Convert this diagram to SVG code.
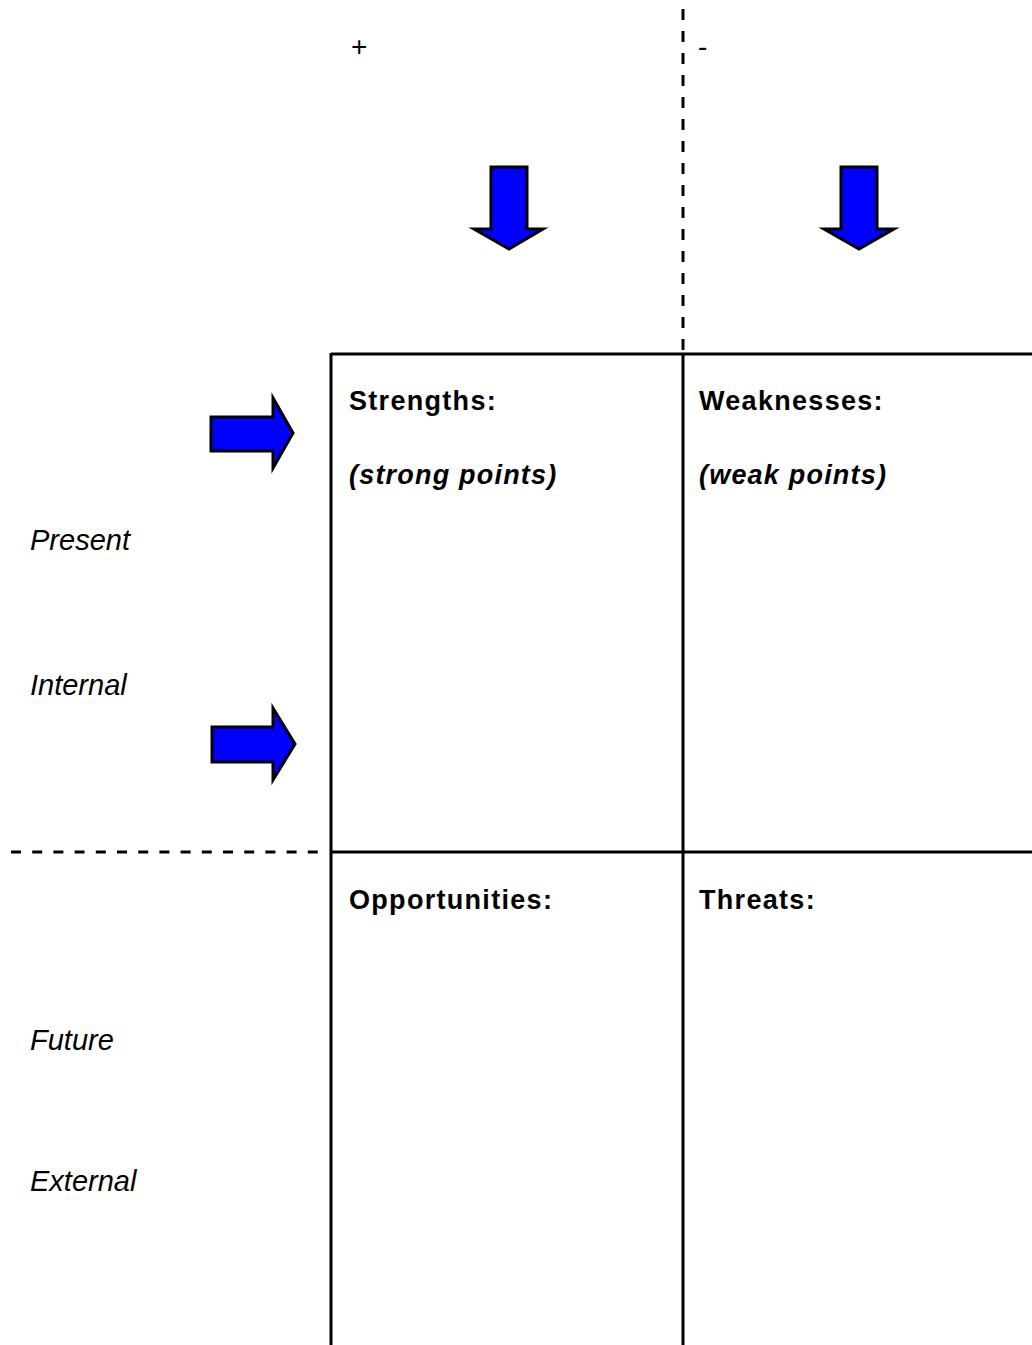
<svg xmlns="http://www.w3.org/2000/svg" width="1032" height="1345" viewBox="0 0 1032 1345">
  <style>
    .bg { fill: #ffffff; }
    .grid { stroke: #000000; stroke-width: 3; fill: none; }
    .dash { stroke: #000000; stroke-width: 3; fill: none; }
    .arrow { fill: #0000ff; stroke: #000000; stroke-width: 3; stroke-linejoin: miter; }
    .sign { font-family: "Liberation Sans", Arial, sans-serif; font-size: 28px; fill: #000000; }
    .axis { font-family: "Liberation Sans", Arial, sans-serif; font-size: 29px; font-style: italic; fill: #000000; }
    .head { font-family: "Liberation Sans", Arial, sans-serif; font-size: 27px; font-weight: bold; letter-spacing: 1.3px; fill: #000000; }
    .sub { font-family: "Liberation Sans", Arial, sans-serif; font-size: 27px; font-weight: bold; font-style: italic; letter-spacing: 1.2px; fill: #000000; }
  </style>

  <rect class="bg" x="0" y="0" width="1032" height="1345"/>

  <!-- Quadrant grid and dashed axes -->
  <g id="connectors">
    <line class="dash" x1="683" y1="9" x2="683" y2="354" stroke-dasharray="11 11"/>
    <line class="dash" x1="11" y1="852" x2="320" y2="852" stroke-dasharray="10 11.2"/>
    <line class="grid" x1="331" y1="354" x2="1032" y2="354"/>
    <line class="grid" x1="331" y1="852" x2="1032" y2="852"/>
    <line class="grid" x1="331" y1="353" x2="331" y2="1345"/>
    <line class="grid" x1="683" y1="353" x2="683" y2="1345"/>
  </g>

  <!-- Column signs -->
  <g id="plus"><text class="sign" x="351" y="56">+</text></g>
  <g id="minus"><text class="sign" x="698" y="56">-</text></g>

  <!-- Block arrows -->
  <g id="arrow-down-left">
    <polygon class="arrow" points="491,167 527,167 527,229 543,229 509,249 474,229 491,229"/>
  </g>
  <g id="arrow-down-right">
    <polygon class="arrow" points="841,167 877,167 877,229 894,229 859,249 824,229 841,229"/>
  </g>
  <g id="arrow-right-top">
    <polygon class="arrow" points="211,417 273,417 273,398 293,433 273,468 273,451 211,451"/>
  </g>
  <g id="arrow-right-bottom">
    <polygon class="arrow" points="212,727 273,727 273,708 295,744 273,780 273,762 212,762"/>
  </g>

  <!-- Row labels -->
  <g id="label-present"><text class="axis" x="30" y="550">Present</text></g>
  <g id="label-internal"><text class="axis" x="30" y="695">Internal</text></g>
  <g id="label-future"><text class="axis" x="30" y="1050">Future</text></g>
  <g id="label-external"><text class="axis" x="30" y="1191">External</text></g>

  <!-- Quadrant headings -->
  <g id="strengths">
    <text class="head" x="349" y="410">Strengths:</text>
    <text class="sub" x="349" y="484">(strong points)</text>
  </g>
  <g id="weaknesses">
    <text class="head" x="699" y="410">Weaknesses:</text>
    <text class="sub" x="699" y="484">(weak points)</text>
  </g>
  <g id="opportunities">
    <text class="head" x="349" y="909">Opportunities:</text>
  </g>
  <g id="threats">
    <text class="head" x="699" y="909">Threats:</text>
  </g>
</svg>
